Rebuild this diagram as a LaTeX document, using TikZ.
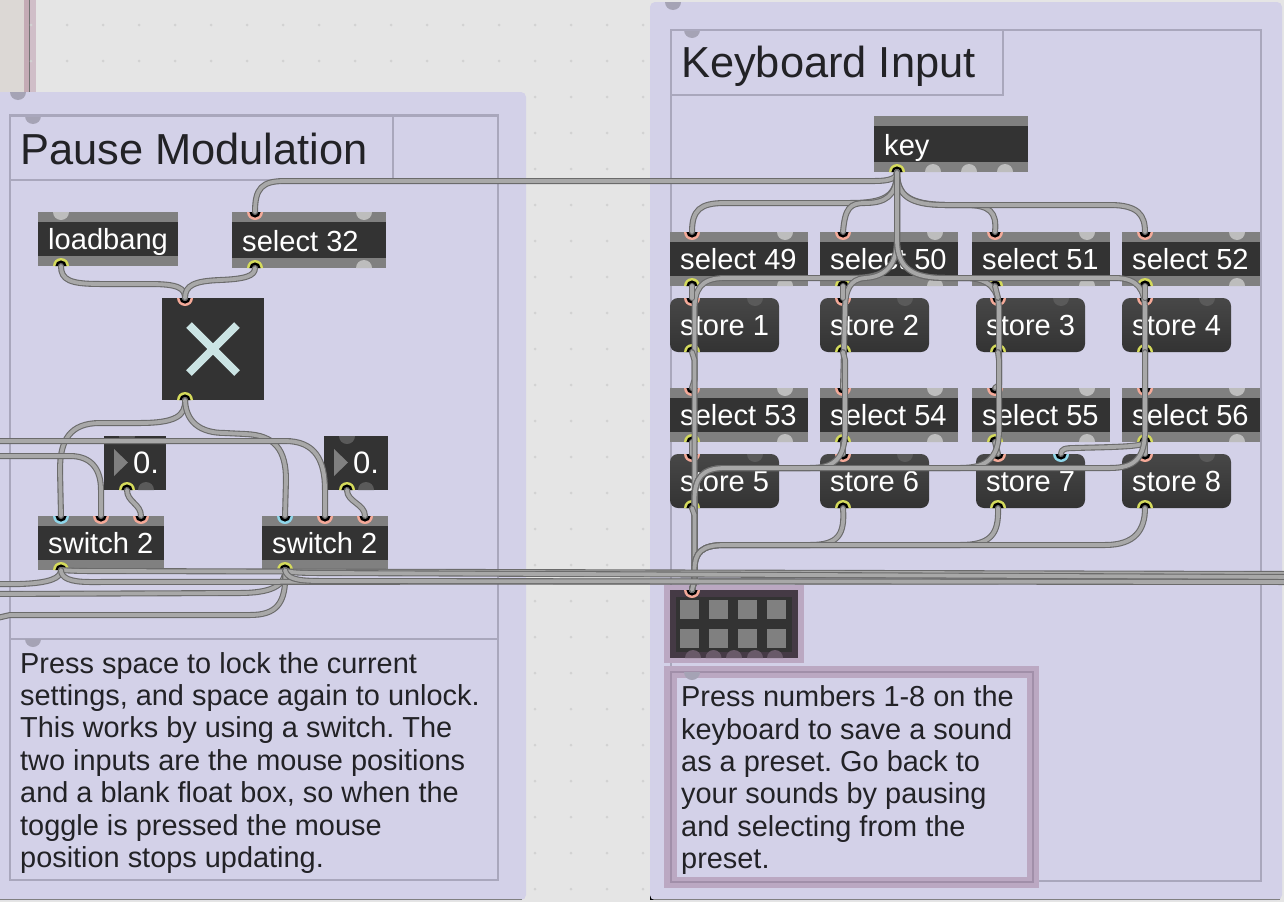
\documentclass[tikz,border=0pt]{standalone}
\usepackage{fontspec}
\setmainfont{Liberation Sans}
\frenchspacing
\definecolor{bgc}{HTML}{E5E5E5}
\definecolor{stripc}{HTML}{DCD8D5}
\definecolor{pinka}{HTML}{C4ABB5}
\definecolor{pinkb}{HTML}{D0BEC8}
\definecolor{dotc}{HTML}{D2D2D2}
\definecolor{panelc}{HTML}{D3D1E8}
\definecolor{framec}{HTML}{A9A7BC}
\definecolor{knobc}{HTML}{A5A3B5}
\definecolor{bandc}{HTML}{808080}
\definecolor{bodyc}{HTML}{333333}
\definecolor{handc}{HTML}{BDBDBD}
\definecolor{darkh}{HTML}{5A5A5A}
\definecolor{salmon}{HTML}{F4A998}
\definecolor{limec}{HTML}{D5DB5C}
\definecolor{cyanc}{HTML}{8ED6EA}
\definecolor{hlc}{HTML}{BBA8C2}
\definecolor{hldark}{HTML}{A18FA9}
\definecolor{inkc}{HTML}{222226}
\definecolor{xc}{HTML}{CBE4E4}
\definecolor{presetc}{HTML}{453A45}
\definecolor{presetk}{HTML}{695A69}
\tikzset{
 wire/.style={draw=black!58,double=black!34,line width=1.1pt,double distance=3.8pt,line cap=round,line join=round},
 objlabel/.style={anchor=base west,inner sep=0pt,text=white,font=\fontsize{29.1}{30}\selectfont},
 bigtitle/.style={anchor=base west,inner sep=0pt,text=inkc,font=\fontsize{43.4}{50}\selectfont},
 para/.style={inner sep=0pt,text=inkc,align=left,font=\fontsize{28.9}{32.4}\selectfont},
 framebox/.style={draw=framec,line width=2.2pt},
 panel/.style={fill=panelc,rounded corners=5pt},
 padbtn/.style={fill=bandc}
}
\newcommand{\hdown}[3]{\fill[#3] (#1,#2) ++(-8pt,0) arc[start angle=180,end angle=360,radius=8pt] -- cycle;}
\newcommand{\hup}[3]{\fill[#3] (#1,#2) ++(-8pt,0) arc[start angle=180,end angle=0,radius=8pt] -- cycle;}
\newcommand{\inport}[4]{\coordinate (#1) at (#2,#3);
 \fill[#4] (#1) ++(-8pt,0) arc[start angle=180,end angle=360,radius=8pt] -- cycle;
 \fill[black] (#1) ++(-5.6pt,0) arc[start angle=180,end angle=360,radius=5.6pt] -- cycle;}
\newcommand{\outport}[3]{\coordinate (#1) at (#2,#3);
 \fill[limec] (#1) ++(-8pt,0) arc[start angle=180,end angle=0,radius=8pt] -- cycle;
 \fill[black] (#1) ++(-5.6pt,0) arc[start angle=180,end angle=0,radius=5.6pt] -- cycle;}
\newcommand{\msgbox}[6]{
 \fill[bandc] (#2,#3) rectangle (#4,#5);
 \fill[bodyc] (#2,#3+10) rectangle (#4,#5-10);
 \node[objlabel] (#1) at (#2+10,#5-17) {#6};}
\newcommand{\storebox}[6]{
 \shade[top color=black!72,bottom color=black!80,rounded corners=8pt] (#2,#3) rectangle (#4,#5);
 \node[objlabel] (#1) at (#2+10,#5-17) {#6};}
\newcommand{\selbox}[5]{% name,x1,y1,label,portx
 \msgbox{#1}{#2}{#3}{#2+138}{#3+54}{#4}
 \hdown{#2+115}{#3}{handc}\hup{#2+115}{#3+54}{handc}
 \inport{#1i}{#5}{#3}{salmon}\outport{#1o}{#5}{#3+54}}
\newcommand{\stbox}[5]{% name,x1,y1,label,portx
 \storebox{#1}{#2}{#3}{#2+109}{#3+54}{#4}
 \hdown{#2+85}{#3}{darkh}
 \inport{#1i}{#5}{#3}{salmon}\outport{#1o}{#5}{#3+54}}
\begin{document}
\begin{tikzpicture}[x=1pt,y=-1pt]
\useasboundingbox (0,0) rectangle (1284,902);
\fill[bgc] (0,0) rectangle (1284,902);
% left strip
\fill[stripc] (0,0) rectangle (24,94);
\fill[pinka] (24,0) rectangle (30,94);
\fill[pinkb] (30,0) rectangle (36,94);
\draw[black!55,line width=0.8pt] (29.5,0) -- (29.5,94);
% grid dots
\foreach \gx in {31,67,103,139,175,211,247,283,319,355,391,427,463,499,535,571,607,643}
 \foreach \gy in {25,61,97,133,169,205,241,277,313,349,385,421,457,493,529,565,601,637,673,709,745,781,817,853,889}
  \fill[dotc] (\gx,\gy) circle[radius=1.5pt];
% panels
\fill[black] (0,92) rectangle (4,96);
\fill[black] (650,893) rectangle (656,900);
\fill[panel] (-10,92) rectangle (526,900);
\fill[panel] (650,2) rectangle (1282,900);
\draw[black!50,line width=1pt] (654,899.5) -- (1280,899.5);
\draw[black!50,line width=1pt] (0,899.5) -- (522,899.5);
% Pause Modulation comments
\hdown{18}{92}{knobc}
\draw[framebox] (10,115.5) rectangle (498,880);
\hdown{33}{116}{knobc}
\draw[framebox] (10,116) rectangle (393,180);
\node[bigtitle] (pausetitle) at (20,164) {Pause Modulation};
\draw[framebox] (10,639) -- (498,639);
\hdown{33}{639}{knobc}
\node[para,anchor=north west] (pausetext) at (20,652) {Press space to lock the current\\settings, and space again to unlock.\\This works by using a switch. The\\two inputs are the mouse positions\\and a blank float box, so when the\\toggle is pressed the mouse\\position stops updating.};
% Keyboard comments
\hdown{673}{2}{knobc}
\draw[framebox] (671,30) rectangle (1261,881);
\hdown{692}{30}{knobc}
\draw[framebox] (671,30) rectangle (1003,95);
\node[bigtitle] (keytitle) at (681,77) {Keyboard Input};
% pink highlight
\fill[hlc] (664,666) rectangle (1039,888);
\fill[panelc] (677,678) rectangle (1027,877);
\draw[draw=hldark,line width=2pt] (671,672) rectangle (1033,882);
\hdown{692}{672}{knobc}
\node[para,anchor=north west] (keytext) at (681,685.5) {Press numbers 1-8 on the\\keyboard to save a sound\\as a preset. Go back to\\your sounds by pausing\\and selecting from the\\preset.};
% preset
\fill[hlc] (664,585) rectangle (804,663);
\fill[presetc] (670,590) rectangle (798,658);
\fill[bodyc] (676,597) rectangle (792,652);
\foreach \px in {680,709,738,767}{
 \fill[padbtn] (\px,600) rectangle (\px+19,619);
 \fill[padbtn] (\px,629) rectangle (\px+19,648);}
\foreach \px in {693,713.5,734,755,775}{\hup{\px}{658}{presetk}}
\inport{preseti}{692}{590}{salmon}
% key
\msgbox{keyobj}{874}{116}{1028}{172}{key}
\foreach \px in {933,969,1005}{\hup{\px}{172}{handc}}
\outport{keyo}{897}{172}
% selects and stores
\selbox{sela}{670}{232}{select 49}{692}
\selbox{selb}{820}{232}{select 50}{843}
\selbox{selc}{972}{232}{select 51}{995}
\selbox{seld}{1122}{232}{select 52}{1145}
\stbox{sta}{670}{298}{store 1}{692}
\stbox{stb}{820}{298}{store 2}{843}
\stbox{stc}{976}{298}{store 3}{998}
\stbox{std}{1122}{298}{store 4}{1145}
\selbox{sele}{670}{388}{select 53}{692}
\selbox{self}{820}{388}{select 54}{843}
\selbox{selg}{972}{388}{select 55}{995}
\selbox{selh}{1122}{388}{select 56}{1145}
\stbox{ste}{670}{454}{store 5}{692}
\stbox{stf}{820}{454}{store 6}{843}
\stbox{stg}{976}{454}{store 7}{998}
\stbox{sth}{1122}{454}{store 8}{1145}
\inport{stgb}{1061}{454}{cyanc}
% loadbang
\msgbox{lb}{38}{212}{178}{266}{loadbang}
\hdown{61}{212}{handc}
\outport{lbo}{61}{266}
% select 32
\msgbox{sel32}{232}{212}{386}{268}{select 32}
\hdown{364}{212}{handc}\hup{364}{268}{handc}
\inport{sel32i}{255}{212}{salmon}\outport{sel32o}{255}{268}
% X toggle
\node[fill=bodyc,minimum size=102pt,inner sep=0pt] (toggle) at (213,349) {};
\draw[xc,line width=8pt] (189,325) -- (237,373) (237,325) -- (189,373);
\inport{togi}{185}{298}{salmon}\outport{togo}{185}{400}
% floats
\fill[bodyc] (104,436) rectangle (166,490);
\fill[bodyc] (324,436) rectangle (388,490);
\fill[bandc] (114,449) -- (128,462.5) -- (114,476) -- cycle;
\fill[bandc] (334,449) -- (348,462.5) -- (334,476) -- cycle;
\node[objlabel,font=\fontsize{31}{33}\selectfont] (floata) at (133,473) {0.};
\node[objlabel,font=\fontsize{31}{33}\selectfont] (floatb) at (353,473) {0.};
\hdown{127}{436}{darkh}\hdown{347}{436}{darkh}
\hup{146}{490}{darkh}\hup{366}{490}{darkh}
\outport{fao}{127}{490}\outport{fbo}{347}{490}
% switches
\msgbox{swa}{38}{516}{164}{570}{switch 2}
\msgbox{swb}{262}{516}{388}{570}{switch 2}
\inport{swac}{61}{516}{cyanc}\inport{swal}{101}{516}{salmon}\inport{swar}{141}{516}{salmon}
\inport{swbc}{285}{516}{cyanc}\inport{swbl}{325}{516}{salmon}\inport{swbr}{365}{516}{salmon}
\outport{swao}{61}{570}\outport{swbo}{285}{570}
% free ends
\coordinate (inA) at (-3,441);
\coordinate (inB) at (-3,456);
\coordinate (outA) at (-3,584);
\coordinate (outB) at (-3,594);
\coordinate (outC) at (-3,618);
\coordinate (busA) at (1287,574);
\coordinate (busB) at (1287,577);
\coordinate (busC) at (1287,581);
\coordinate (busD) at (1287,582);
% ---------- wires: key to first row
\draw[wire] (keyo) .. controls (897,178) and (890,181) .. (875,181) -- (285,181) .. controls (262,181) and (255,188) .. (sel32i);
\draw[wire] (keyo) .. controls (897,196) and (885,203) .. (850,203) -- (725,203) .. controls (700,203) and (692,210) .. (selai);
\draw[wire] (keyo) .. controls (897,196) and (885,203) .. (865,203) .. controls (850,203) and (845,208) .. (selbi);
\draw[wire] (keyo) .. controls (897,196) and (910,204) .. (945,205) -- (965,205) .. controls (990,205) and (997,212) .. (selci);
\draw[wire] (keyo) .. controls (897,196) and (910,205) .. (945,205) -- (1110,205) .. controls (1138,205) and (1145,215) .. (seldi);
% key to second row
\draw[wire] (keyo) -- (897,240) .. controls (897,272) and (880,278) .. (850,278) -- (725,278) .. controls (700,278) and (694.5,290) .. (694.5,310) -- (694.5,380) -- (selei);
\draw[wire] (keyo) -- (897,240) .. controls (897,265) and (885,277) .. (865,278) .. controls (850,279) and (845,290) .. (845,310) -- (selfi);
\draw[wire] (keyo) -- (897,240) .. controls (897,270) and (915,278) .. (945,278) -- (965,278) .. controls (990,278) and (999,290) .. (999,310) -- (999,385) -- (selgi);
\draw[wire] (keyo) -- (897,240) .. controls (897,270) and (915,278) .. (945,278) -- (1115,278) .. controls (1138,278) and (1145,290) .. (1145,310) -- (selhi);
% select to store
\draw[wire] (selao) -- (stai);
\draw[wire] (selbo) -- (stbi);
\draw[wire] (selco) -- (stci);
\draw[wire] (seldo) -- (stdi);
\draw[wire] (seleo) -- (stei);
\draw[wire] (selfo) -- (stfi);
\draw[wire] (selgo) -- (stgi);
\draw[wire] (selho) -- (sthi);
\draw[wire] (selho) .. controls (1145,447) and (1110,447) .. (1075,448) .. controls (1065,448) and (1061,449) .. (stgb);
% stores 1-4 to preset
\draw[wire] (stao) -- (694.5,360) -- (694.5,580) -- (preseti);
\draw[wire] (stbo) -- (845,360) -- (845,430) .. controls (845,458) and (835,468) .. (810,468) -- (725,468) .. controls (702,468) and (694.5,478) .. (694.5,500) -- (694.5,580) -- (preseti);
\draw[wire] (stco) -- (999,360) -- (999,430) .. controls (999,458) and (987,468) .. (960,468) -- (725,468) .. controls (702,468) and (694.5,478) .. (694.5,500) -- (694.5,580) -- (preseti);
\draw[wire] (stdo) -- (1145,430) .. controls (1145,458) and (1135,468) .. (1110,468) -- (725,468) .. controls (702,468) and (694.5,478) .. (694.5,500) -- (694.5,580) -- (preseti);
% stores 5-8 to preset
\draw[wire] (steo) -- (694.5,515) -- (694.5,580) -- (preseti);
\draw[wire] (stfo) .. controls (845,535) and (838,545) .. (810,545) -- (725,545) .. controls (702,545) and (694.5,552) .. (694.5,570) -- (694.5,580) -- (preseti);
\draw[wire] (stgo) .. controls (999,535) and (990,545) .. (960,545) -- (725,545) .. controls (702,545) and (694.5,552) .. (694.5,570) -- (694.5,580) -- (preseti);
\draw[wire] (stho) .. controls (1145,530) and (1135,545) .. (1105,545) -- (725,545) .. controls (702,545) and (694.5,552) .. (694.5,570) -- (694.5,580) -- (preseti);
% pause section
\draw[wire] (lbo) .. controls (61,280) and (70,284) .. (100,284) -- (150,284) .. controls (178,284) and (185,288) .. (togi);
\draw[wire] (sel32o) .. controls (255,276) and (245,279) .. (220,280) .. controls (195,281) and (185,285) .. (togi);
\draw[wire] (togo) .. controls (186,416) and (175,423) .. (140,423) -- (100,423) .. controls (70,423) and (60,440) .. (60,470) -- (swac);
\draw[wire] (togo) .. controls (186,422) and (200,433) .. (225,433) -- (245,434) .. controls (275,435) and (286,450) .. (286,480) -- (swbc);
\draw[wire] (inA) -- (285,441) .. controls (315,441) and (325,460) .. (325,490) -- (swbl);
\draw[wire] (inB) -- (70,456) .. controls (92,456) and (101,470) .. (101,490) -- (swal);
\draw[wire] (fao) .. controls (127,502) and (141,504) .. (swar);
\draw[wire] (fbo) .. controls (347,502) and (365,504) .. (swbr);
% outlets to the left and along the bus
\draw[wire] (swao) .. controls (61,578) and (50,583) .. (20,584) -- (outA);
\draw[wire] (swbo) .. controls (286,586) and (270,593) .. (240,593) -- (outB);
\draw[wire] (swbo) .. controls (287,605) and (275,615) .. (250,615) -- (10,615) -- (outC);
\draw[wire] (swao) .. controls (62,570) and (70,571) .. (90,571) -- (busA);
\draw[wire] (swao) .. controls (61,578) and (70,582) .. (90,582) -- (busC);
\draw[wire] (swbo) .. controls (287,572) and (295,573) .. (320,573) -- (busB);
\draw[wire] (swbo) .. controls (287,578) and (295,581) .. (320,581) -- (busD);
\end{tikzpicture}
\end{document}
